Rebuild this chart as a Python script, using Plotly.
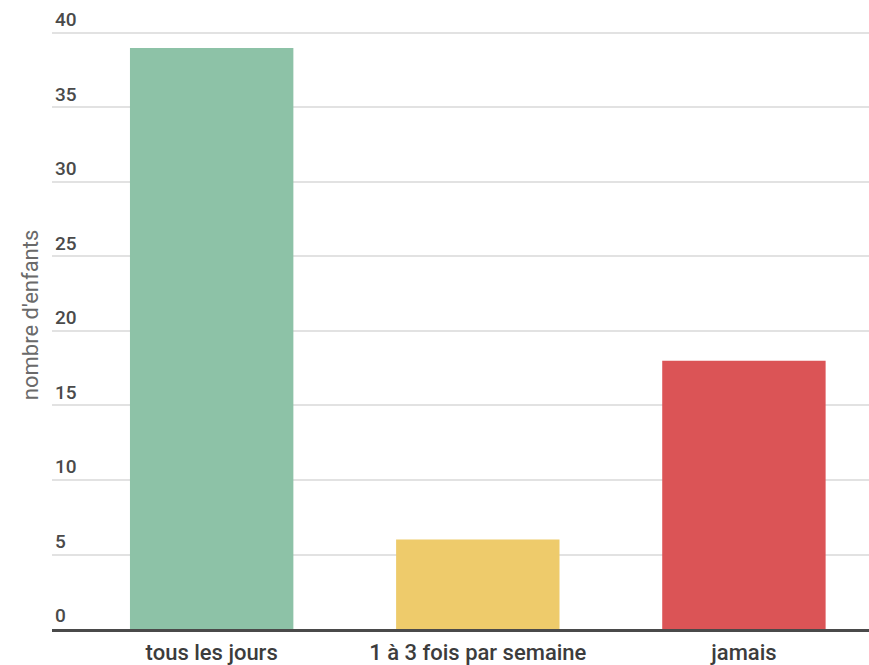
import plotly.graph_objects as go

categories = ["tous les jours", "1 à 3 fois par semaine", "jamais"]
values = [39, 6, 18]
colors = ["#8DC2A7", "#EECB6B", "#DB5456"]
y_ticks = [0, 5, 10, 15, 20, 25, 30, 35, 40]
y_title = "nombre d'enfants"

fig = go.Figure(
    go.Bar(
        x=categories,
        y=values,
        marker=dict(color=colors, line=dict(width=0)),
        width=0.614,
    )
)

fig.update_layout(
    width=869,
    height=665,
    margin=dict(l=52, r=0, t=30, b=33),
    paper_bgcolor="white",
    plot_bgcolor="white",
    font=dict(family="Roboto", color="#444444"),
    showlegend=False,
    annotations=[
        dict(
            text=y_title,
            xref="paper",
            yref="paper",
            x=-0.0269,
            y=0.524,
            xanchor="center",
            yanchor="middle",
            textangle=-90,
            showarrow=False,
            font=dict(size=22, color="#6a6a6a"),
        )
    ],
)

fig.update_xaxes(
    range=[-0.6, 2.47],
    showgrid=False,
    showline=True,
    linewidth=3,
    linecolor="#4a4a4a",
    ticks="outside",
    ticklen=2,
    tickcolor="rgba(0,0,0,0)",
    tickfont=dict(size=22, color="#3c3c3c", weight=500),
)

fig.update_yaxes(
    range=[0, 40.2],
    tickvals=y_ticks,
    ticktext=[str(v) for v in y_ticks],
    ticklabelposition="inside top",
    ticklabeloverflow="allow",
    showgrid=True,
    gridcolor="#e2e2e2",
    gridwidth=2,
    zeroline=False,
    showline=False,
    tickfont=dict(size=19, color="#4a4a4a", weight=500),
)

fig.write_html(
    "out.html",
    config={"displayModeBar": False},
    post_script="document.body.style.margin='0';document.body.style.overflow='hidden';",
)
